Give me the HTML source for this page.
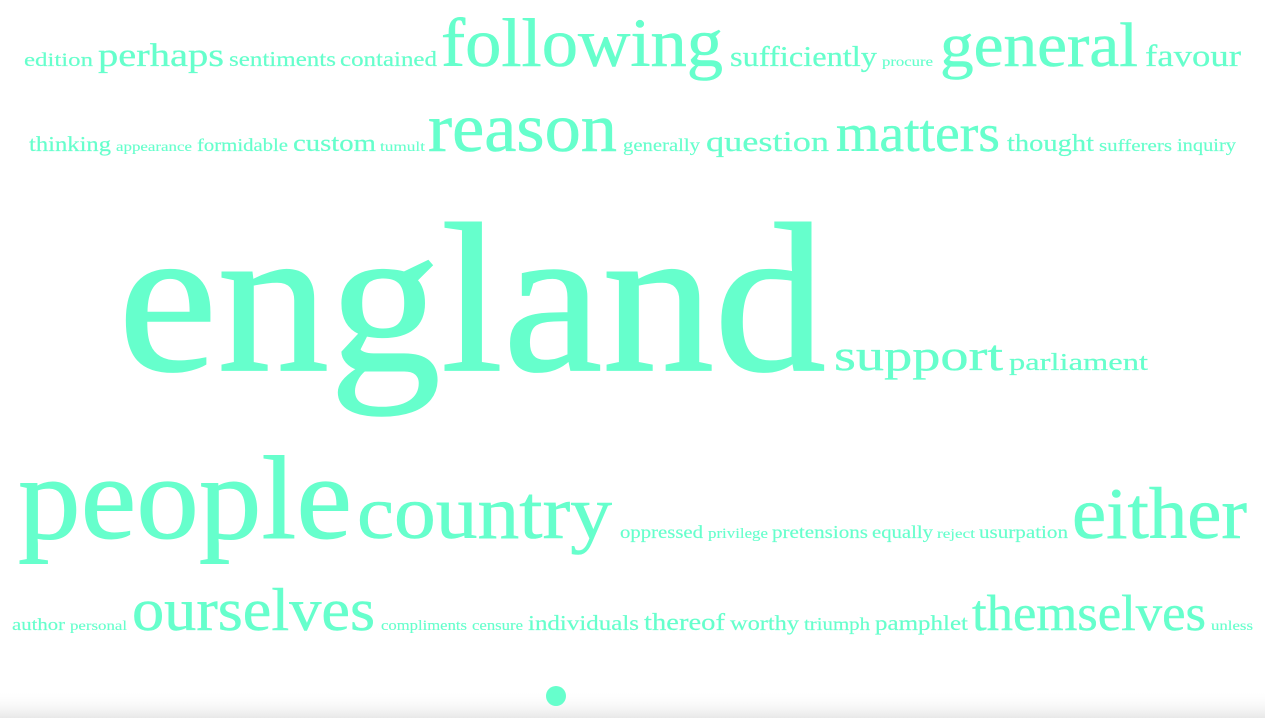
<!DOCTYPE html>
<html><head><meta charset="utf-8"><style>
html,body{margin:0;padding:0;background:#fff;width:1265px;height:718px;overflow:hidden}
svg{display:block}
text{font-family:"Liberation Serif","DejaVu Serif",serif;fill:#66ffcc;stroke:#66ffcc}
</style></head><body>
<svg id="cloud" width="1265" height="718" viewBox="0 0 1265 718">
<defs><linearGradient id="fade" x1="0" y1="0" x2="0" y2="1"><stop offset="0" stop-color="#fff" stop-opacity="0"/><stop offset="1" stop-color="#e8e8e8"/></linearGradient></defs>
<rect x="0" y="690" width="1265" height="28" fill="url(#fade)"/>
<circle cx="556" cy="696" r="10" fill="#66ffcc"/>
</svg>
<script>
const words=["edition","perhaps","sentiments","contained","following","sufficiently","procure","general","favour",
"thinking","appearance","formidable","custom","tumult","reason","generally","question","matters","thought","sufferers","inquiry",
"england","support","parliament",
"people","country","oppressed","privilege","pretensions","equally","reject","usurpation","either",
"author","personal","ourselves","compliments","censure","individuals","thereof","worthy","triumph","pamphlet","themselves","unless"];
const sizes=[20,34,22,22,72,30,14,66,32,
22,14,19,26,14,72,19,30,56,26,18,19,
224,46,26,
125,80,19,15,19,19,14,19,77,
18,14,64,15,15,22,25,22,19,22,53,14];
const lefts=[24,98,229,340,441,730,882,940,1145,
29,116,197,293,380,428,623,706,836,1007,1099,1177,
118,834,1009,
18,357,620,708,772,872,937,979,1072,
12,70,132,381,472,528,644,730,804,875,972,1211];
const rights=[93,224,336,437,723,877,933,1138,1241,
111,192,288,376,425,617,700,829,1000,1094,1172,1236,
826,1003,1148,
352,612,703,768,868,933,975,1068,1247,
65,127,375,467,523,639,725,799,870,968,1206,1253];
const rowOf=[0,0,0,0,0,0,0,0,0,1,1,1,1,1,1,1,1,1,1,1,1,2,2,2,3,3,3,3,3,3,3,3,3,4,4,4,4,4,4,4,4,4,4,4,4];
const rowBase=[66,151,370,538,630];
const svg=document.getElementById('cloud');
const NS='http://www.w3.org/2000/svg';
words.forEach((w,i)=>{
  const t=document.createElementNS(NS,'text');
  
  
  const fs=sizes[i]*0.95;
  t.setAttribute('x',lefts[i]);
  t.setAttribute('y',rowBase[rowOf[i]]);
  t.setAttribute('font-size',fs);
  t.setAttribute('stroke-width',fs*0.008);
  t.setAttribute('textLength',rights[i]-lefts[i]);
  t.setAttribute('lengthAdjust','spacingAndGlyphs');
  t.textContent=w;
  svg.appendChild(t);
});
</script>
</body></html>
